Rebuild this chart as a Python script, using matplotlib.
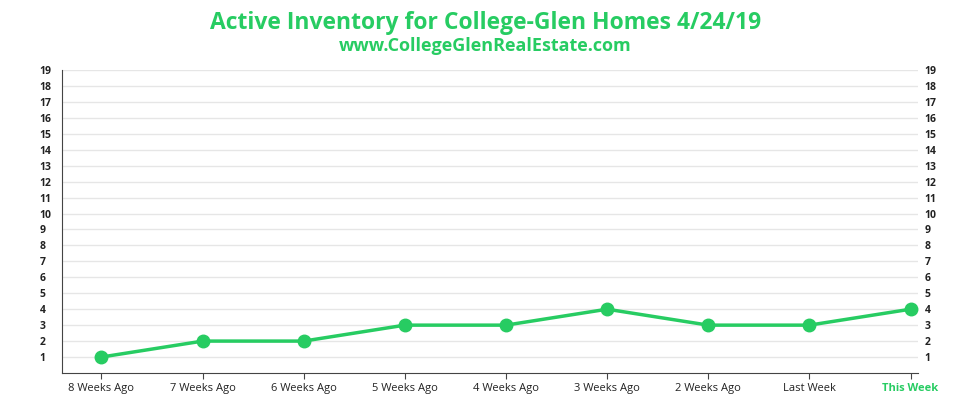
import matplotlib.pyplot as plt

GREEN = '#27cc62'

weeks = ['8 Weeks Ago', '7 Weeks Ago', '6 Weeks Ago', '5 Weeks Ago', '4 Weeks Ago',
         '3 Weeks Ago', '2 Weeks Ago', 'Last Week', 'This Week']
inventory = [1, 2, 2, 3, 3, 4, 3, 3, 4]
yticks = list(range(1, 20))

plt.rcParams['font.family'] = 'Open Sans'
fig = plt.figure(figsize=(9.71, 4.13), dpi=100)
ax = fig.add_axes([0.0639, 0.0969, 0.8811, 0.7336])

x = list(range(len(weeks)))
ax.plot(x, inventory, color=GREEN, lw=2.5, marker='o', ms=9, zorder=3, clip_on=False)

ax.set_ylim(0, 19)
ax.set_xlim(-0.39, 8.07)
ax.set_yticks(yticks)
ax.set_yticklabels([str(v) for v in yticks], fontsize=7.5, fontweight='bold', color='#222222')
ax.tick_params(axis='y', length=0, pad=16)
for lbl in ax.get_yticklabels():
    lbl.set_horizontalalignment('left')
ax.grid(axis='y', color='#e6e6e6', lw=1)
ax.set_axisbelow(True)

ax2 = ax.twinx()
ax2.set_ylim(0, 19)
ax2.set_yticks(yticks)
ax2.set_yticklabels([str(v) for v in yticks], fontsize=7.5, fontweight='bold', color='#222222')
ax2.tick_params(axis='y', length=0, pad=5)
for s in ax2.spines.values():
    s.set_visible(False)

ax.set_xticks(x)
ax.set_xticklabels(weeks, fontsize=8, color='#222222')
ax.get_xticklabels()[-1].set_color(GREEN)
ax.get_xticklabels()[-1].set_fontweight('bold')
ax.tick_params(axis='x', length=4, color='#444444')

ax.spines['top'].set_visible(False)
ax.spines['right'].set_visible(False)
ax.spines['left'].set_color('#444444')
ax.spines['bottom'].set_color('#444444')

fig.text(0.5, 0.945, 'Active Inventory for College-Glen Homes 4/24/19', ha='center', va='center',
         fontsize=16.5, fontweight='bold', color=GREEN)
fig.text(0.5, 0.888, 'www.CollegeGlenRealEstate.com', ha='center', va='center',
         fontsize=13, fontweight='bold', color=GREEN)

fig.savefig('out.png', dpi=100)
